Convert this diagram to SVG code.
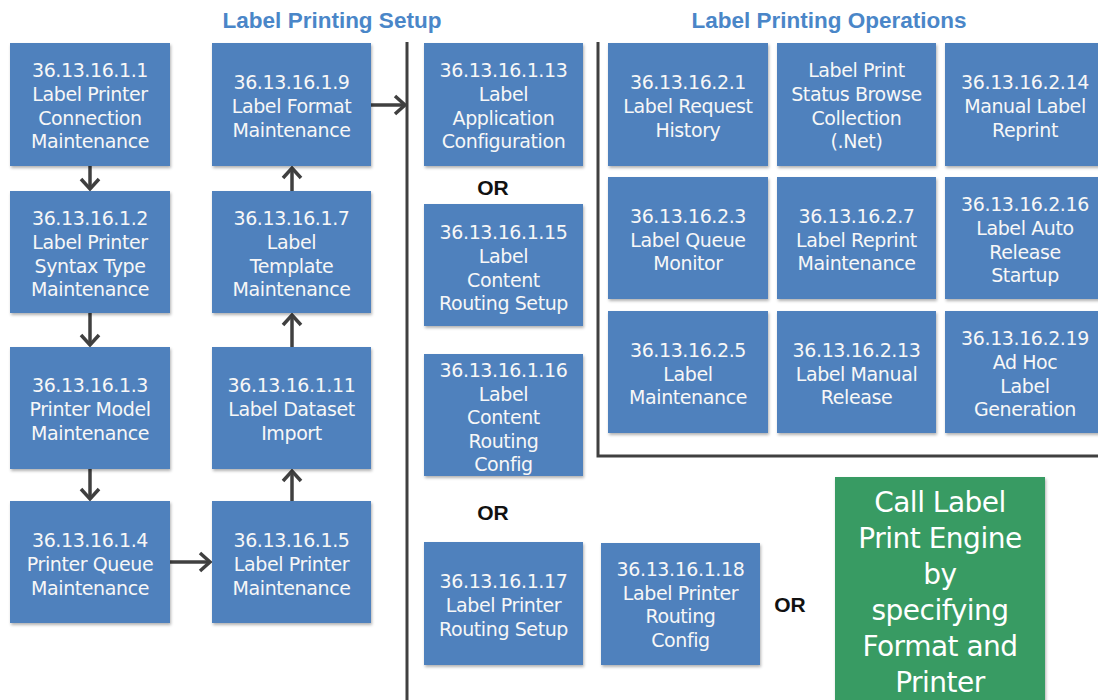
<svg xmlns="http://www.w3.org/2000/svg" width="1098" height="700" viewBox="0 0 1098 700">
<style>
.box{fill:#4F81BD;filter:url(#sh)}
.green{fill:#389B63;filter:url(#sh)}
.t{font-family:"DejaVu Sans",sans-serif;font-size:19px;fill:#F7F7F7;text-anchor:middle;letter-spacing:-0.4px;transform:translateY(2px)}
.g{font-family:"DejaVu Sans",sans-serif;font-size:28px;fill:#FFFFFF;text-anchor:middle;letter-spacing:-0.5px}
.title{font-family:"Liberation Sans",Arial,sans-serif;font-size:22.5px;font-weight:bold;fill:#4A86C8;text-anchor:middle}
.or{font-family:"Liberation Sans",Arial,sans-serif;font-size:21px;font-weight:bold;fill:#111111;text-anchor:middle}
.ln{stroke:#404040;stroke-width:3;fill:none}
.ar{stroke:#404040;stroke-width:3.5;fill:none;marker-end:url(#ah)}
</style>
<defs>
<filter id="sh" x="-5%" y="-5%" width="115%" height="115%">
<feDropShadow dx="1" dy="2" stdDeviation="1.5" flood-color="#000" flood-opacity="0.3"/>
</filter>
<marker id="ah" markerUnits="userSpaceOnUse" markerWidth="18" markerHeight="22" refX="12" refY="11" orient="auto">
<path d="M2,2 L12,11 L2,20" stroke="#404040" stroke-width="3.5" fill="none"/>
</marker>
</defs>
<rect width="1098" height="700" fill="#FFFFFF"/>

<text class="title" x="332" y="28">Label Printing Setup</text>
<text class="title" x="829" y="28">Label Printing Operations</text>

<g id="connectors">
<line class="ln" x1="407" y1="42" x2="407" y2="700"/>
<polyline class="ln" points="598,42 598,456 1098,456"/>
<line class="ar" x1="90" y1="166" x2="90" y2="189"/>
<line class="ar" x1="90" y1="313" x2="90" y2="345"/>
<line class="ar" x1="90" y1="469" x2="90" y2="499"/>
<line class="ar" x1="170" y1="562" x2="210" y2="562"/>
<line class="ar" x1="292" y1="501" x2="292" y2="471"/>
<line class="ar" x1="292" y1="347" x2="292" y2="315"/>
<line class="ar" x1="292" y1="191" x2="292" y2="168"/>
<line class="ar" x1="371" y1="105" x2="405" y2="105"/>
</g>

<g id="n1_1"><rect class="box" x="10" y="43" width="160" height="123"/>
<text class="t"><tspan x="90" y="75">36.13.16.1.1</tspan><tspan x="90" y="99">Label Printer</tspan><tspan x="90" y="122.5">Connection</tspan><tspan x="90" y="146">Maintenance</tspan></text></g>
<g id="n1_2"><rect class="box" x="10" y="191" width="160" height="122"/>
<text class="t"><tspan x="90" y="223">36.13.16.1.2</tspan><tspan x="90" y="247">Label Printer</tspan><tspan x="90" y="270.5">Syntax Type</tspan><tspan x="90" y="294">Maintenance</tspan></text></g>
<g id="n1_3"><rect class="box" x="10" y="347" width="160" height="122"/>
<text class="t"><tspan x="90" y="390">36.13.16.1.3</tspan><tspan x="90" y="414">Printer Model</tspan><tspan x="90" y="437.5">Maintenance</tspan></text></g>
<g id="n1_4"><rect class="box" x="10" y="501" width="160" height="122"/>
<text class="t"><tspan x="90" y="545">36.13.16.1.4</tspan><tspan x="90" y="569">Printer Queue</tspan><tspan x="90" y="592.5">Maintenance</tspan></text></g>

<g id="n1_9"><rect class="box" x="212" y="43" width="159" height="123"/>
<text class="t"><tspan x="291.5" y="87">36.13.16.1.9</tspan><tspan x="291.5" y="111">Label Format</tspan><tspan x="291.5" y="134.5">Maintenance</tspan></text></g>
<g id="n1_7"><rect class="box" x="212" y="191" width="159" height="122"/>
<text class="t"><tspan x="291.5" y="223">36.13.16.1.7</tspan><tspan x="291.5" y="247">Label</tspan><tspan x="291.5" y="270.5">Template</tspan><tspan x="291.5" y="294">Maintenance</tspan></text></g>
<g id="n1_11"><rect class="box" x="212" y="347" width="159" height="122"/>
<text class="t"><tspan x="291.5" y="390">36.13.16.1.11</tspan><tspan x="291.5" y="414">Label Dataset</tspan><tspan x="291.5" y="437.5">Import</tspan></text></g>
<g id="n1_5"><rect class="box" x="212" y="501" width="159" height="122"/>
<text class="t"><tspan x="291.5" y="545">36.13.16.1.5</tspan><tspan x="291.5" y="569">Label Printer</tspan><tspan x="291.5" y="592.5">Maintenance</tspan></text></g>

<g id="n1_13"><rect class="box" x="424" y="43" width="159" height="123"/>
<text class="t"><tspan x="503.5" y="75">36.13.16.1.13</tspan><tspan x="503.5" y="99">Label</tspan><tspan x="503.5" y="122.5">Application</tspan><tspan x="503.5" y="146">Configuration</tspan></text></g>
<text class="or" x="493" y="195">OR</text>
<g id="n1_15"><rect class="box" x="424" y="204" width="159" height="122"/>
<text class="t"><tspan x="503.5" y="237">36.13.16.1.15</tspan><tspan x="503.5" y="261">Label</tspan><tspan x="503.5" y="284.5">Content</tspan><tspan x="503.5" y="308">Routing Setup</tspan></text></g>
<g id="n1_16"><rect class="box" x="424" y="354" width="159" height="122"/>
<text class="t"><tspan x="503.5" y="375">36.13.16.1.16</tspan><tspan x="503.5" y="398.5">Label</tspan><tspan x="503.5" y="422">Content</tspan><tspan x="503.5" y="445.5">Routing</tspan><tspan x="503.5" y="469">Config</tspan></text></g>
<text class="or" x="493" y="520">OR</text>
<g id="n1_17"><rect class="box" x="424" y="542" width="159" height="123"/>
<text class="t"><tspan x="503.5" y="586">36.13.16.1.17</tspan><tspan x="503.5" y="610">Label Printer</tspan><tspan x="503.5" y="633.5">Routing Setup</tspan></text></g>
<g id="n1_18"><rect class="box" x="601" y="543" width="159" height="122"/>
<text class="t"><tspan x="680.5" y="574">36.13.16.1.18</tspan><tspan x="680.5" y="597.5">Label Printer</tspan><tspan x="680.5" y="621">Routing</tspan><tspan x="680.5" y="644.5">Config</tspan></text></g>
<text class="or" x="790" y="612">OR</text>

<g id="n2_1"><rect class="box" x="608" y="43" width="160" height="123"/>
<text class="t"><tspan x="688" y="87">36.13.16.2.1</tspan><tspan x="688" y="111">Label Request</tspan><tspan x="688" y="134.5">History</tspan></text></g>
<g id="nStatus"><rect class="box" x="777" y="43" width="159" height="123"/>
<text class="t"><tspan x="856.5" y="75">Label Print</tspan><tspan x="856.5" y="99">Status Browse</tspan><tspan x="856.5" y="122.5">Collection</tspan><tspan x="856.5" y="146">(.Net)</tspan></text></g>
<g id="n2_14"><rect class="box" x="945" y="43" width="160" height="123"/>
<text class="t"><tspan x="1025" y="87">36.13.16.2.14</tspan><tspan x="1025" y="111">Manual Label</tspan><tspan x="1025" y="134.5">Reprint</tspan></text></g>

<g id="n2_3"><rect class="box" x="608" y="177" width="160" height="122"/>
<text class="t"><tspan x="688" y="221">36.13.16.2.3</tspan><tspan x="688" y="244.5">Label Queue</tspan><tspan x="688" y="268">Monitor</tspan></text></g>
<g id="n2_7"><rect class="box" x="777" y="177" width="159" height="122"/>
<text class="t"><tspan x="856.5" y="221">36.13.16.2.7</tspan><tspan x="856.5" y="244.5">Label Reprint</tspan><tspan x="856.5" y="268">Maintenance</tspan></text></g>
<g id="n2_16"><rect class="box" x="945" y="177" width="160" height="122"/>
<text class="t"><tspan x="1025" y="209">36.13.16.2.16</tspan><tspan x="1025" y="233">Label Auto</tspan><tspan x="1025" y="256.5">Release</tspan><tspan x="1025" y="280">Startup</tspan></text></g>

<g id="n2_5"><rect class="box" x="608" y="311" width="160" height="122"/>
<text class="t"><tspan x="688" y="355">36.13.16.2.5</tspan><tspan x="688" y="378.5">Label</tspan><tspan x="688" y="402">Maintenance</tspan></text></g>
<g id="n2_13"><rect class="box" x="777" y="311" width="159" height="122"/>
<text class="t"><tspan x="856.5" y="355">36.13.16.2.13</tspan><tspan x="856.5" y="378.5">Label Manual</tspan><tspan x="856.5" y="402">Release</tspan></text></g>
<g id="n2_19"><rect class="box" x="945" y="311" width="160" height="122"/>
<text class="t"><tspan x="1025" y="343">36.13.16.2.19</tspan><tspan x="1025" y="367">Ad Hoc</tspan><tspan x="1025" y="390.5">Label</tspan><tspan x="1025" y="414">Generation</tspan></text></g>

<g id="nEngine"><rect class="green" x="835" y="477" width="210" height="240"/>
<text class="g"><tspan x="940" y="512">Call Label</tspan><tspan x="940" y="548">Print Engine</tspan><tspan x="940" y="584">by</tspan><tspan x="940" y="620">specifying</tspan><tspan x="940" y="656">Format and</tspan><tspan x="940" y="692">Printer</tspan></text></g>
</svg>
